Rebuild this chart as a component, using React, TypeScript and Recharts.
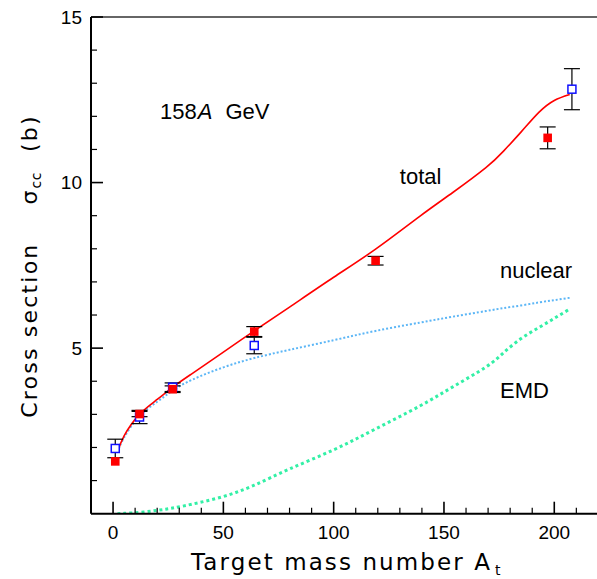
import React from "react";
import {
  ComposedChart,
  Line,
  Scatter,
  ErrorBar,
  XAxis,
  YAxis,
  ReferenceLine,
  ReferenceDot,
} from "recharts";

// model curves, sampled on a common grid of target mass numbers
const curveA = [2, 5, 12, 20, 27, 36, 50, 64, 80, 100, 119, 139, 154, 169, 177, 185, 193, 200, 207];
const totalCurve = [1.85, 2.35, 3.0, 3.45, 3.82, 4.24, 4.88, 5.52, 6.24, 7.14, 7.99, 8.98, 9.7, 10.45, 10.95, 11.53, 12.12, 12.48, 12.66];
const nuclearCurve = [1.85, 2.3, 2.95, 3.38, 3.72, 4.05, 4.42, 4.7, 4.95, 5.24, 5.52, 5.77, 5.95, 6.12, 6.21, 6.29, 6.38, 6.45, 6.52];
const emdCurve = [0, 0.01, 0.04, 0.1, 0.17, 0.29, 0.52, 0.86, 1.35, 1.93, 2.56, 3.25, 3.83, 4.43, 4.86, 5.29, 5.62, 5.9, 6.18];

// measurements: filled (red) and open (blue) squares
const filledA = [1, 12, 27, 64, 119, 197];
const filledSigma = [1.58, 3.01, 3.76, 5.5, 7.64, 11.35];
const filledErr = [0, 0.08, 0.1, 0.15, 0.13, 0.33];

const openA = [1, 12, 27, 64, 208];
const openSigma = [1.97, 2.92, 3.82, 5.08, 12.82];
const openErr = [0.28, 0.2, 0.13, 0.25, 0.62];

const xTicks = [0, 10, 20, 30, 40, 50, 60, 70, 80, 90, 100, 110, 120, 130, 140, 150, 160, 170, 180, 190, 200, 210];
const yTicks = [1, 2, 3, 4, 5, 6, 7, 8, 9, 10, 11, 12, 13, 14, 15];

const toCurve = (vals: number[]) => curveA.map((a, i) => ({ a, v: vals[i] }));
const totalData = toCurve(totalCurve);
const nuclearData = toCurve(nuclearCurve);
const emdData = toCurve(emdCurve);
const filledData = filledA.map((a, i) => ({ a, v: filledSigma[i], e: filledErr[i] }));
const openData = openA.map((a, i) => ({ a, v: openSigma[i], e: openErr[i] }));

const tickFont = "'Liberation Sans', Arial, sans-serif";
const titleFont = "'DejaVu Sans', sans-serif";

const XTick = (props: any) => {
  const { x, y, payload } = props;
  const major = payload.value % 50 === 0;
  return (
    <g>
      <line x1={x} x2={x} y1={y} y2={y - (major ? 12 : 6)} stroke="#000" strokeWidth={major ? 1.6 : 1.2} />
      {major && (
        <text x={x} y={y + 25} textAnchor="middle" fontFamily={tickFont} fontSize={19} fill="#000">
          {payload.value}
        </text>
      )}
    </g>
  );
};

const YTick = (props: any) => {
  const { x, y, payload } = props;
  const major = payload.value % 5 === 0;
  return (
    <g>
      <line x1={x} x2={x + (major ? 12 : 6)} y1={y} y2={y} stroke="#000" strokeWidth={major ? 1.6 : 1.2} />
      {major && (
        <text x={x - 9} y={y} dy="0.36em" textAnchor="end" fontFamily={tickFont} fontSize={19} fill="#000">
          {payload.value}
        </text>
      )}
    </g>
  );
};

const XTitle = ({ viewBox }: any) => (
  <text x={viewBox.x + 100} y={viewBox.y + 56} fontFamily={titleFont} fontSize={23} letterSpacing={2.1} fill="#000">
    Target mass number A
    <tspan fontSize={14} dx={3} dy={5}>t</tspan>
  </text>
);

const YTitle = ({ viewBox }: any) => {
  const x = viewBox.x + viewBox.width - 54;
  const y = viewBox.y + viewBox.height - 96;
  return (
    <text x={0} y={0} transform={`translate(${x},${y}) rotate(-90)`} fontFamily={titleFont} fontSize={22} letterSpacing={2.2} fill="#000">
      Cross section
      <tspan dx={38}>σ</tspan>
      <tspan fontSize={14} dy={4} letterSpacing={0.5}>cc</tspan>
      <tspan dy={-4} dx={20}>(b)</tspan>
    </text>
  );
};

const note = (text: React.ReactNode) => ({
  content: ({ viewBox }: any) => (
    <text x={viewBox.x} y={viewBox.y} fontFamily={tickFont} fontSize={22} fill="#000">
      {text}
    </text>
  ),
});

const FilledSquare = ({ cx, cy }: any) => (
  <rect x={cx - 4.3} y={cy - 4.3} width={8.6} height={8.6} fill="#ff0000" />
);

const OpenSquare = ({ cx, cy }: any) => (
  <rect x={cx - 4} y={cy - 4} width={8} height={8} fill="#fff" stroke="#1010ff" strokeWidth={1.5} />
);

export default function App() {
  return (
    <div style={{ position: "absolute", left: 0, top: 0, width: 597, height: 579, overflow: "hidden", background: "#fff" }}>
      <ComposedChart width={600} height={579} margin={{ top: 17, right: 1.6, left: 51, bottom: 35.3 }}>
        <XAxis
          type="number"
          dataKey="a"
          domain={[-10, 220]}
          ticks={xTicks}
          interval={0}
          height={30}
          tickSize={0}
          tickMargin={0}
          tickLine={false}
          tick={<XTick />}
          axisLine={{ stroke: "#000", strokeWidth: 2 }}
          allowDataOverflow
          label={{ content: XTitle }}
        />
        <YAxis
          type="number"
          dataKey="v"
          domain={[0, 15]}
          ticks={yTicks}
          interval={0}
          width={40}
          tickSize={0}
          tickMargin={0}
          tickLine={false}
          tick={<YTick />}
          axisLine={{ stroke: "#000", strokeWidth: 2 }}
          allowDataOverflow
          label={{ content: YTitle }}
        />
        <ReferenceLine y={15} stroke="#333" strokeWidth={1.3} />

        <Line data={emdData} dataKey="v" type="natural" stroke="#33f0a6" strokeWidth={3} strokeDasharray="3 3" dot={false} isAnimationActive={false} />
        <Line data={nuclearData} dataKey="v" type="natural" stroke="#5cb6f6" strokeWidth={2} strokeDasharray="2 2" dot={false} isAnimationActive={false} />
        <Line data={totalData} dataKey="v" type="natural" stroke="#ff0000" strokeWidth={1.6} dot={false} isAnimationActive={false} />

        <Scatter data={openData} dataKey="v" shape={OpenSquare} isAnimationActive={false}>
          <ErrorBar dataKey="e" direction="y" width={8} stroke="#000" strokeWidth={1.2} />
        </Scatter>
        <Scatter data={filledData} dataKey="v" shape={FilledSquare} isAnimationActive={false}>
          <ErrorBar dataKey="e" direction="y" width={8} stroke="#000" strokeWidth={1.2} />
        </Scatter>

        <ReferenceDot x={21.3} y={11.92} r={0} fill="none" stroke="none"
          label={note(<>158<tspan fontStyle="italic" dx={1}>A</tspan><tspan dx={13}>GeV</tspan></>)} />
        <ReferenceDot x={130} y={9.96} r={0} fill="none" stroke="none" label={note("total")} />
        <ReferenceDot x={175.4} y={7.12} r={0} fill="none" stroke="none" label={note("nuclear")} />
        <ReferenceDot x={175.4} y={3.5} r={0} fill="none" stroke="none" label={note("EMD")} />
      </ComposedChart>
    </div>
  );
}
